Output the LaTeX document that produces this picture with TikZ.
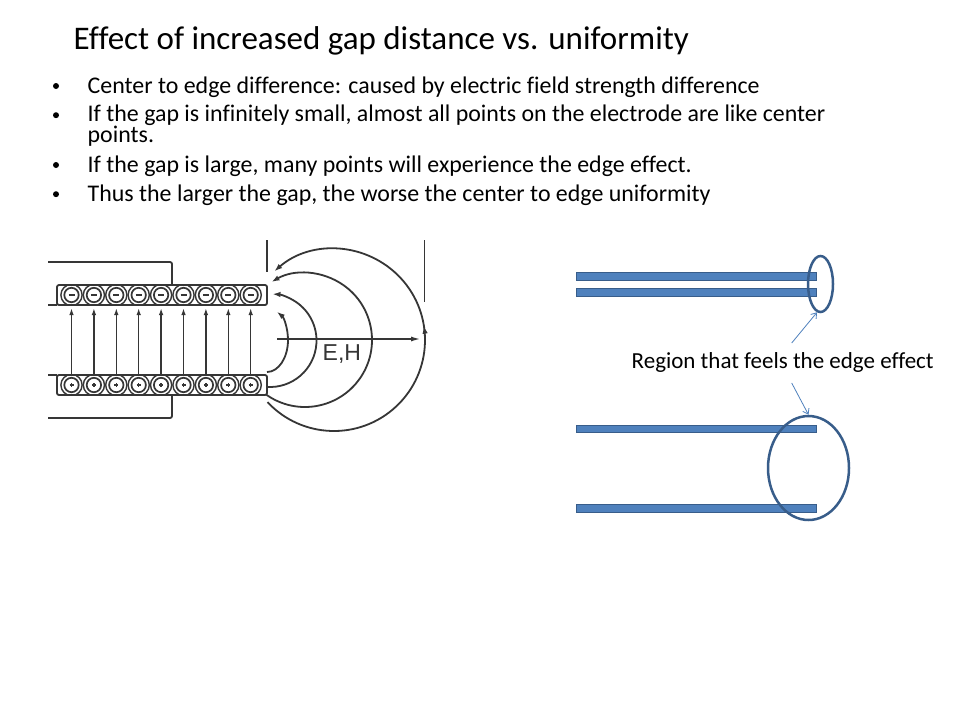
\documentclass[tikz,border=0pt]{standalone}
\usepackage{fontspec}
\setmainfont{Carlito}[Ligatures={NoCommon}]
\newfontfamily\arialf{Liberation Sans}
\usetikzlibrary{arrows.meta,decorations.markings,shapes.geometric}
\definecolor{barblue}{HTML}{4F81BD}
\definecolor{bardark}{HTML}{385D8A}
\definecolor{figgray}{HTML}{363636}
\begin{document}
\begin{tikzpicture}[x=1pt,y=-1pt,
  txt/.style={anchor=base west, inner sep=0pt, font=\fontsize{23.9}{20}\selectfont},
  bdot/.style={circle, fill=black, inner sep=0pt, minimum size=6pt},
  fig/.style={draw=figgray, line width=1.8pt},
  fhead/.style={-{Latex[length=8pt,width=5.5pt]}},
  bar/.style={fill=barblue, draw=bardark, line width=1pt},
  ring/.style={ellipse, draw=bardark, line width=2.5pt, inner sep=0pt},
  thinarrow/.style={draw=barblue, line width=0.8pt, -{Straight Barb[length=5pt,width=7pt]}}
]
\useasboundingbox[fill=white] (0,0) rectangle (960,720);

% Title
\node[anchor=base west, inner sep=0pt, font=\fontsize{33}{39}\selectfont] (title) at (73.5,49) {Effect of increased gap distance vs. uniformity};

% Bullets
\node[bdot] (d1) at (56,86) {};
\node[bdot] (d2) at (56,115.2) {};
\node[bdot] (d3) at (56,165) {};
\node[bdot] (d4) at (56,194.2) {};
\node[txt] (t1) at (87.5,93.5) {Center to edge difference: caused by electric field strength difference};
\node[txt, align=left] (t2) at (87.5,142.7) {If the gap is infinitely small, almost all points on the electrode are like center\\points.};
\node[txt] (t3) at (87.5,172.5) {If the gap is large, many points will experience the edge effect.};
\node[txt] (t4) at (87.5,201.7) {Thus the larger the gap, the worse the center to edge uniformity};

% ---------- Left figure ----------
% wires
\draw[fig, rounded corners=2pt] (48,262) -- (172,262) -- (172,285);
\draw[fig, rounded corners=2pt] (172,395) -- (172,418) -- (48,418);
\draw[fig] (48,305) -- (57,305);
\draw[fig] (48,375) -- (57,375);
% outer rings clipped
\begin{scope}
  \clip (57,285) rectangle (267,305);
  \foreach \i in {0,...,8} \draw[fig, line width=1.4pt] ({71.5+22.4*\i},295) circle[radius=10.6];
\end{scope}
\begin{scope}
  \clip (57,375) rectangle (267,395);
  \foreach \i in {0,...,8} \draw[fig, line width=1.4pt] ({71.5+22.4*\i},385) circle[radius=10.6];
\end{scope}
% electrodes
\draw[fig, rounded corners=2pt] (57,285) rectangle (267,305);
\draw[fig, rounded corners=2pt] (57,375) rectangle (267,395);
% charges
\foreach \i in {0,...,8} {
  \draw[fig, line width=1.7pt] ({71.5+22.4*\i},295) circle[radius=7.2];
  \draw[fig, line width=2pt] ({71.5+22.4*\i-3},295) -- ({71.5+22.4*\i+3},295);
  \draw[fig, line width=1.7pt] ({71.5+22.4*\i},385) circle[radius=7.2];
  \draw[fig, line width=1.4pt] ({71.5+22.4*\i-2},385) -- ({71.5+22.4*\i+2},385);
  \draw[fig, line width=1.4pt] ({71.5+22.4*\i},383) -- ({71.5+22.4*\i},387);
  \draw[fig, line width=1.5pt, -{Latex[length=7pt,width=4.5pt]}] ({71.5+22.4*\i},375) -- ({71.5+22.4*\i},308);
}
% boundary lines
\draw[fig] (267,240) -- (267,272);
\draw[fig] (424.5,240) -- (424.5,302);
% field arcs
\draw[fig, fhead, postaction={decorate},
  decoration={markings, mark=at position 0.545 with {\arrow{Latex[length=8pt,width=5.5pt]}}}]
  (334,340) ++(137:91) arc[start angle=137, end angle=-131, radius=91];
\draw[fig, fhead] (305,340) ++(125:67) arc[start angle=125, end angle=-120, radius=67];
\draw[fig, fhead] (270,340.5) ++(94:46.5) arc[start angle=94, end angle=-87, radius=46.5];
\draw[fig, fhead] (267,340) ++(90:21 and 32) arc[start angle=90, end angle=-62, x radius=21, y radius=32];
% E,H arrow
\coordinate (ehs) at (277,339);
\coordinate (ehe) at (421,339);
\draw[fig, -{Latex[length=10pt,width=5pt]}] (ehs) -- (ehe);
\node[anchor=base west, inner sep=0pt, font=\arialf\fontsize{23}{27}\selectfont, text=figgray] (eh) at (322.5,360) {E,H};

% ---------- Right figure ----------
\draw[bar] (576.5,272.5) rectangle (816.5,280.5);
\draw[bar] (576.5,288.5) rectangle (816.5,296.5);
\draw[bar] (576.5,425) rectangle (816.5,432.5);
\draw[bar] (576.5,504.5) rectangle (816.5,512.5);
\node[ring, minimum width=25pt, minimum height=56pt] (e1) at (820.5,284) {};
\node[ring, minimum width=81pt, minimum height=104pt] (e2) at (808.5,468) {};
\node[txt, font=\fontsize{23}{27}\selectfont] (lab) at (631.5,368.3) {Region that feels the edge effect};
\coordinate (a1s) at (791.7,343);
\coordinate (a2s) at (791.7,383);
\draw[thinarrow] (a1s) -- (e1.-97);
\draw[thinarrow] (a2s) -- (e2.north);
\end{tikzpicture}
\end{document}
